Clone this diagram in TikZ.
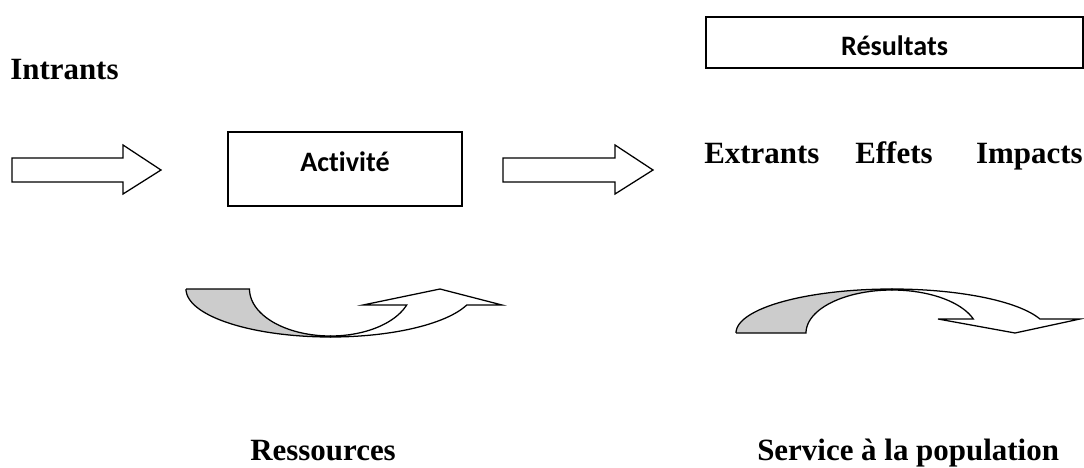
\documentclass[tikz,border=0pt]{standalone}
\usepackage{fontspec}
\setmainfont{Liberation Serif}
\newfontfamily\calibri[Ligatures=NoCommon]{Carlito}

\tikzset{
  titre/.style={font=\fontsize{22}{26}\selectfont\bfseries, inner sep=0pt},
  cadre/.style={draw, line width=1pt, inner sep=0pt},
  etiquette/.style={font=\calibri\fontsize{20}{24}\selectfont\bfseries, inner sep=0pt},
  fleche/.style={draw, line width=0.9pt, fill=white, line join=miter},
  dos/.style={draw, line width=0.9pt, fill=gray!40},
}

\begin{document}
\begin{tikzpicture}[x=0.025cm, y=-0.025cm]
\useasboundingbox (0,0) rectangle (1084,467);

% Titles
\node[titre, anchor=base west] (intrants) at (10,79) {Intrants};
\node[titre, anchor=base west] (extrants) at (704,163) {Extrants};
\node[titre, anchor=base west] (effets) at (855,163) {Effets};
\node[titre, anchor=base east] (impacts) at (1083,163) {Impacts};
\node[titre, anchor=base west] (ressources) at (250,460) {Ressources};
\node[titre, anchor=base west] (service) at (757,460) {Service à la population};

% Boxes
\node[cadre, minimum width=5.85cm, minimum height=1.85cm] (activite) at (345,169) {};
\node[etiquette, anchor=base] (activitetxt) at (345,171) {Activité};
\node[cadre, minimum width=9.425cm, minimum height=1.275cm] (resultats) at (894.5,42.5) {};
\node[etiquette, anchor=base] (resultatstxt) at (894.5,55) {Résultats};

% Block arrows
\draw[fleche] (12,158) -- (123,158) -- (123,145) -- (161,170) -- (123,194) -- (123,182) -- (12,182) -- cycle;
\draw[fleche] (503,158) -- (615,158) -- (615,145) -- (653,170) -- (615,194) -- (615,182) -- (503,182) -- cycle;

% Curved arrow, upwards
\draw[dos] (186,289) -- (249.5,289) -- plot[domain=180:90, samples=40] ({330.5+81*cos(\x)}, {289+47*sin(\x)})
  -- plot[domain=90:180, samples=40] ({330.5+144.5*cos(\x)}, {289+48*sin(\x)}) -- cycle;
\draw[fleche] plot[domain=90:19.9, samples=40] ({330.5+81*cos(\x)}, {289+47*sin(\x)})
  -- (363,305) -- (440,289) -- (502,305)
  -- plot[domain=19.47:90, samples=40] ({330.5+144.5*cos(\x)}, {289+48*sin(\x)}) -- cycle;

% Curved arrow, downwards
\draw[dos] (736,333) -- (806,333) -- plot[domain=180:270, samples=40] ({892+86*cos(\x)}, {333+43*sin(\x)})
  -- plot[domain=270:180, samples=40] ({892+156*cos(\x)}, {333+44*sin(\x)}) -- cycle;
\draw[fleche] plot[domain=270:341, samples=40] ({892+86*cos(\x)}, {333+43*sin(\x)})
  -- (938,319) -- (1015,333) -- (1080,319)
  -- plot[domain=341.4:270, samples=40] ({892+156*cos(\x)}, {333+44*sin(\x)}) -- cycle;
\end{tikzpicture}
\end{document}
